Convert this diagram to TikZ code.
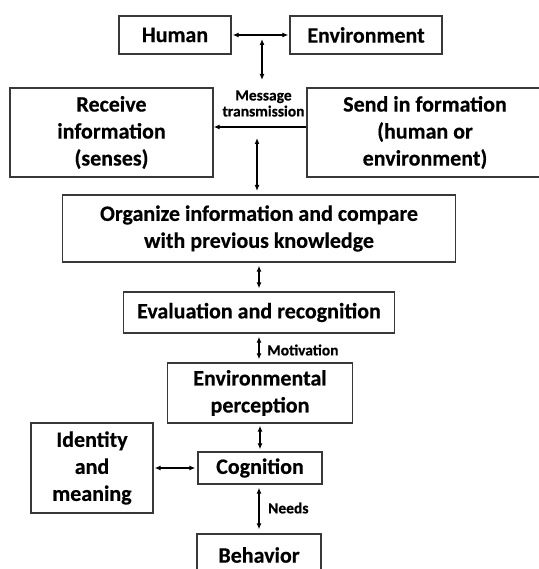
\documentclass[tikz,border=0pt]{standalone}
\usepackage{fontspec}
\setmainfont{Carlito}[BoldFeatures={FakeBold=0.4}]
\usetikzlibrary{arrows.meta}
\begin{document}
\begin{tikzpicture}[x=1pt,y=-1pt,
  box/.style={draw=black!78,line width=1.3pt,rectangle,inner sep=0pt,align=center,
    font=\fontsize{22}{27}\selectfont\bfseries},
  lbl/.style={inner sep=0pt,align=center,font=\fontsize{15.5}{16}\selectfont\bfseries},
  arr/.style={line width=1.2pt,{Latex[length=6pt,width=5pt]}-{Latex[length=6pt,width=5pt]}},
  onearr/.style={line width=1.2pt,-{Latex[length=6pt,width=5pt]}}]
\useasboundingbox (0,0) rectangle (538,569);
% boxes
\node[box,minimum width=112,minimum height=38] (human) at (175,35) {Human};
\node[box,minimum width=152,minimum height=38] (env) at (366,35) {Environment};
\node[box,minimum width=203,minimum height=89] (receive) at (111.5,132.5) {Receive\\information\\(senses)};
\node[box,minimum width=236,minimum height=89] (send) at (425,132.5) {Send in formation\\(human or\\environment)};
\node[box,minimum width=393,minimum height=67] (organize) at (259,228.5) {Organize information and compare\\with previous knowledge};
\node[box,minimum width=271,minimum height=41] (eval) at (259,312.5) {Evaluation and recognition};
\node[box,minimum width=185,minimum height=60] (envperc) at (260,393) {Environmental\\perception};
\node[box,minimum width=124,minimum height=32] (cognition) at (260,468) {Cognition};
\node[box,minimum width=122,minimum height=90] (identity) at (92,468) {Identity\\and\\meaning};
\node[box,minimum width=124,minimum height=42] (behavior) at (259,555) {Behavior};
% labels
\node[lbl] (msg) at (263.5,103.5) {Message\\transmission};
\node[lbl,anchor=west] (motiv) at (267,350) {Motivation};
\node[lbl,anchor=west] (needs) at (268,508) {Needs};
% helper coordinates
\coordinate (ta) at (262,39);
\coordinate (tb) at (262,80);
\coordinate (sr) at (0,127);
\coordinate (ma) at (257,138);
\coordinate (mb) at (257,191);
% connectors
\draw[arr,shorten <=1pt,shorten >=1pt] (human.east) -- (env.west);
\draw[arr] (ta) -- (tb);
\draw[onearr] (sr -| send.west) -- (sr -| receive.east);
\draw[arr] (ma) -- (mb);
\draw[arr,shorten <=3pt,shorten >=3pt] (organize.south -| eval.north) -- (eval.north);
\draw[arr,shorten <=3pt,shorten >=3pt] (eval.south) -- (eval.south |- envperc.north);
\draw[arr,shorten <=2pt,shorten >=2pt] (envperc.south) -- (envperc.south |- cognition.north);
\draw[arr,shorten <=1pt,shorten >=2pt] (identity.east |- cognition.west) -- (cognition.west);
\draw[arr,shorten <=3pt,shorten >=4pt] (cognition.south -| behavior.north) -- (behavior.north);
\end{tikzpicture}
\end{document}
